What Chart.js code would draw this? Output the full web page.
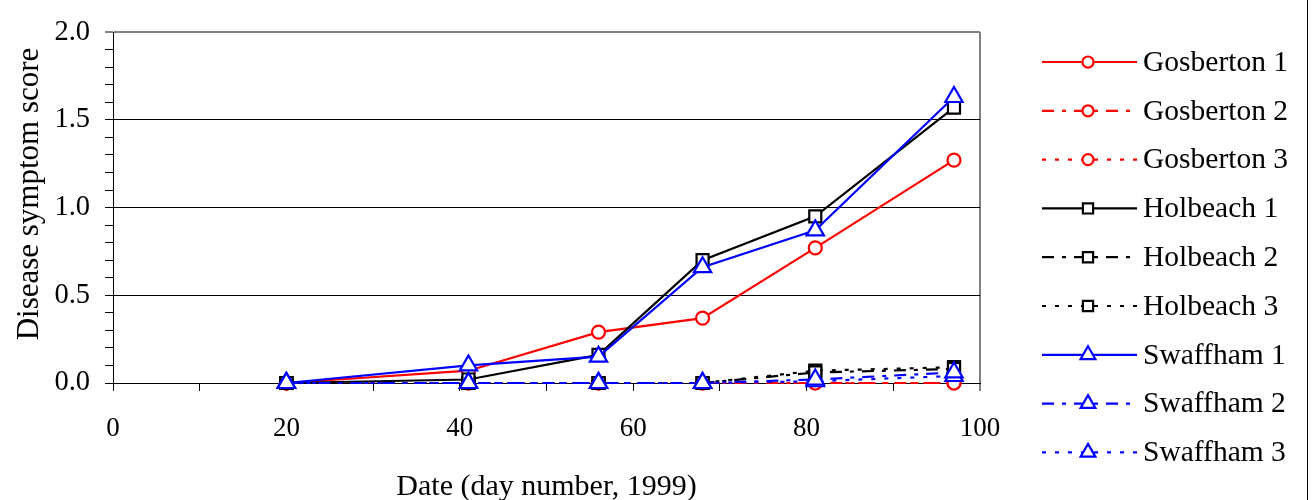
<!DOCTYPE html>
<html>
<head>
<meta charset="utf-8">
<script src="https://cdn.jsdelivr.net/npm/chart.js@4/dist/chart.umd.min.js"></script>
<style>
    body { margin: 0; background: #fff; }
    #wrap { width: 1312px; height: 500px; }
</style>
</head>
<body>
<div id="wrap"><canvas id="scoreChart"></canvas></div>
<script>
// day numbers of the assessments
const days = [20, 41, 56, 68, 81, 97]

const gosberton1 = [0, 0.07, 0.29, 0.37, 0.77, 1.27]
const gosberton2 = [0, 0, 0, 0, 0, 0]
const gosberton3 = [0, 0, 0, 0, 0, 0]
const holbeach1 = [0, 0.02, 0.16, 0.70, 0.95, 1.57]
const holbeach2 = [0, 0, 0, 0, 0.06, 0.08]
const holbeach3 = [0, 0, 0, 0, 0.07, 0.09]
const swaffham1 = [0, 0.10, 0.15, 0.66, 0.87, 1.63]
const swaffham2 = [0, 0, 0, 0, 0.02, 0.06]
const swaffham3 = [0, 0, 0, 0, 0.01, 0.04]

const seriesNames = ['Gosberton 1', 'Gosberton 2', 'Gosberton 3',
    'Holbeach 1', 'Holbeach 2', 'Holbeach 3',
    'Swaffham 1', 'Swaffham 2', 'Swaffham 3']
const seriesValues = [gosberton1, gosberton2, gosberton3,
    holbeach1, holbeach2, holbeach3,
    swaffham1, swaffham2, swaffham3]

const yTickLabels = ['0.0', '0.5', '1.0', '1.5', '2.0']
const xTickLabels = ['0', '20', '40', '60', '80', '100']
const yTitle = 'Disease symptom score'

const FONT = '"Liberation Serif", "Times New Roman", serif'
const siteColors = ['#ff0000', '#000000', '#0000ff']
const siteMarkers = [
    {pointStyle: 'circle', pointRadius: 6.5},
    {pointStyle: 'rect', pointRadius: 8.5},
    {pointStyle: 'triangle', pointRadius: 10},
]
const dashes = [[], [12, 8, 4, 8], [4, 9]]

const datasets = seriesValues.map((vals, i) => {
    const site = Math.floor(i / 3)
    const rep = i % 3
    return {
        label: seriesNames[i],
        data: vals.map((v, k) => ({x: days[k], y: v})),
        borderColor: siteColors[site],
        borderWidth: 2.2,
        borderDash: dashes[rep],
        backgroundColor: '#ffffff',
        pointBackgroundColor: '#ffffff',
        pointBorderColor: siteColors[site],
        pointBorderWidth: 2.2,
        pointStyle: siteMarkers[site].pointStyle,
        pointRadius: siteMarkers[site].pointRadius,
        tension: 0,
        fill: false,
        clip: false,
        order: 30 - site * 10 - (2 - rep),
    }
})

const sideLegend = {
    id: 'sideLegend',
    afterDraw(chart) {
        const ctx = chart.ctx
        ctx.save()
        chart.data.datasets.forEach((ds, i) => {
            const y = 62 + i * 48.8
            ctx.strokeStyle = ds.borderColor
            ctx.lineWidth = 2.2
            ctx.setLineDash(ds.borderDash)
            ctx.beginPath()
            ctx.moveTo(1042, y)
            ctx.lineTo(1137, y)
            ctx.stroke()
            ctx.setLineDash([])
            ctx.fillStyle = '#ffffff'
            ctx.strokeStyle = ds.borderColor
            ctx.lineWidth = 2.2
            Chart.helpers.drawPoint(ctx, {
                pointStyle: ds.pointStyle,
                radius: ds.pointRadius * 0.85,
                rotation: 0,
                borderWidth: 2.2,
            }, 1088, y)
            ctx.fillStyle = '#000'
            ctx.font = '29.5px ' + FONT
            ctx.textBaseline = 'middle'
            ctx.fillText(ds.label, 1143, y + 1)
        })
        // right edge of the legend frame
        ctx.strokeStyle = '#000'
        ctx.lineWidth = 1
        ctx.beginPath()
        ctx.moveTo(1307.5, 0)
        ctx.lineTo(1307.5, 500)
        ctx.stroke()

        // y axis title, sits a little above the plot's middle
        ctx.translate(30, 194)
        ctx.rotate(-Math.PI / 2)
        ctx.font = '31px ' + FONT
        ctx.textAlign = 'center'
        ctx.textBaseline = 'middle'
        ctx.fillStyle = '#000'
        ctx.fillText(yTitle, 0, 0)
        ctx.restore()
    }
}

const isHalf = (v) => Math.abs(Math.round(v * 10) % 5) === 0

new Chart(document.getElementById('scoreChart').getContext('2d'), {
    type: 'line',
    data: {datasets: datasets},
    options: {
        responsive: true,
        maintainAspectRatio: false,
        animation: false,
        devicePixelRatio: 1,
        layout: {padding: {left: 0, top: 23, right: 332, bottom: 0}},
        plugins: {
            legend: {display: false},
            tooltip: {enabled: false},
        },
        scales: {
            x: {
                type: 'linear',
                min: 0,
                max: 100,
                afterFit: (scale) => { scale.height = 117 },
                ticks: {
                    stepSize: 10,
                    autoSkip: false,
                    maxRotation: 0,
                    padding: 22,
                    color: '#000',
                    font: {family: FONT, size: 27},
                    callback: (v) => xTickLabels.includes(String(v)) ? String(v) : '',
                },
                grid: {
                    color: (c) => c.tick && c.tick.value === 100 ? '#808080' : 'rgba(0,0,0,0)',
                    lineWidth: (c) => c.tick && c.tick.value === 100 ? 2 : 1,
                    tickColor: '#000',
                    tickLength: 8,
                    tickWidth: 1,
                },
                border: {display: true, color: '#000', width: 1},
                title: {
                    display: true,
                    text: 'Date (day number, 1999)',
                    color: '#000',
                    font: {family: FONT, size: 30, lineHeight: 1},
                    padding: {top: 0, bottom: -2},
                },
            },
            y: {
                min: 0,
                max: 2,
                afterFit: (scale) => { scale.width = 113 },
                ticks: {
                    stepSize: 0.1,
                    autoSkip: false,
                    padding: 15,
                    color: '#000',
                    font: {family: FONT, size: 28.5},
                    callback: (v) => {
                        if (!isHalf(v)) return ''
                        return yTickLabels[Math.round(v * 2)]
                    },
                },
                grid: {
                    color: (c) => {
                        if (!c.tick) return 'rgba(0,0,0,0)'
                        const v = c.tick.value
                        if (Math.abs(v - 2) < 1e-6) return '#808080'
                        if (v > 0.01 && isHalf(v)) return '#000'
                        return 'rgba(0,0,0,0)'
                    },
                    lineWidth: (c) => c.tick && Math.abs(c.tick.value - 2) < 1e-6 ? 2 : 1,
                    tickColor: '#000',
                    tickLength: 8,
                    tickWidth: 1,
                },
                border: {display: true, color: '#000', width: 1},
                title: {display: false},
            },
        },
    },
    plugins: [sideLegend],
});
</script>
</body>
</html>
